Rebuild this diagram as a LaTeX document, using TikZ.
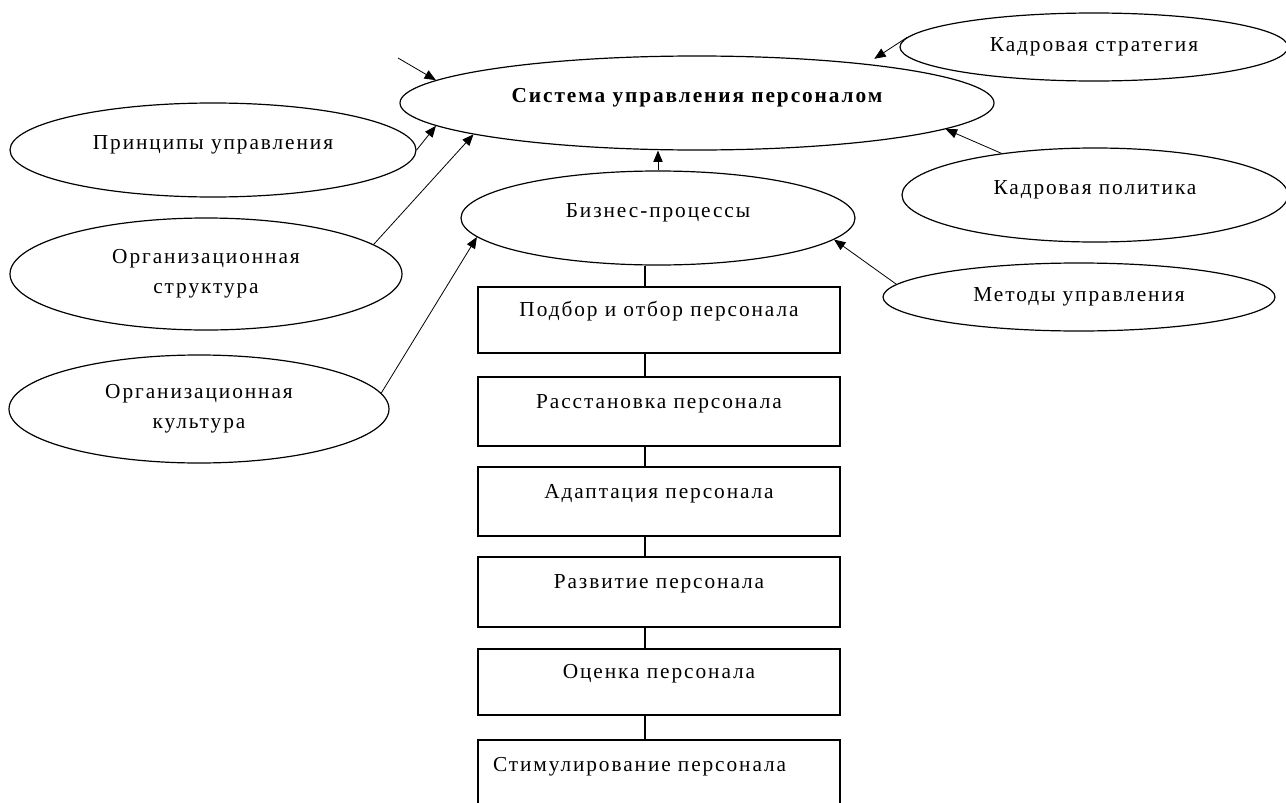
\documentclass[tikz,border=0pt]{standalone}
\usepackage{fontspec}
\setmainfont{Liberation Serif}[LetterSpace=9]
\usetikzlibrary{shapes.geometric,arrows.meta}
\begin{document}
\begin{tikzpicture}[x=0.75pt,y=-0.75pt,
  font=\fontsize{16}{22.5}\selectfont,
  ell/.style={draw,ellipse,inner sep=0pt,line width=0.9pt,align=center},
  lift/.style={text height=11pt,text depth=12pt},
  stagebox/.style={draw,rectangle,line width=1pt,minimum width=271.5pt,
    text height=11pt,text depth=15.8pt,inner sep=0pt},
  arr/.style={-{Triangle[length=8.5pt,width=7pt]},line width=0.6pt},
  link/.style={line width=1pt}]
\useasboundingbox (0,0) rectangle (1286,803);
\clip (0,0) rectangle (1286,803);
\fill[white] (0,0) rectangle (1286,803);

% ellipses
\node[ell,lift,minimum width=445.5pt,minimum height=70.5pt] (m) at (697,103) {\bfseries Система управления персоналом};
\node[ell,minimum width=291pt,minimum height=51pt] (ks) at (1094,47) {Кадровая стратегия};
\node[ell,lift,minimum width=304.5pt,minimum height=70.5pt] (p) at (213,150) {Принципы управления};
\node[ell,minimum width=294pt,minimum height=84pt] (os) at (206,274) {Организационная\\структура};
\node[ell,minimum width=285pt,minimum height=81pt] (ok) at (199,409) {Организационная\\культура};
\node[ell,lift,minimum width=295.5pt,minimum height=70.5pt] (biz) at (658,218) {Бизнес-процессы};
\node[ell,lift,minimum width=289.5pt,minimum height=70.5pt] (kp) at (1095,195) {Кадровая политика};
\node[ell,minimum width=294pt,minimum height=51pt] (mu) at (1079,297) {Методы управления};

% boxes
\node[stagebox,minimum height=49.5pt] (b1) at (659,320) {Подбор и отбор персонала};
\node[stagebox,minimum height=51.75pt] (b2) at (659,411.5) {Расстановка персонала};
\node[stagebox,minimum height=51.75pt] (b3) at (659,501.5) {Адаптация персонала};
\node[stagebox,minimum height=52.5pt] (b4) at (659,592) {Развитие персонала};
\node[stagebox,minimum height=49.5pt] (b5) at (659,682) {Оценка персонала};
\node[stagebox,minimum height=52.5pt,text width=249pt,align=left,inner xsep=11.25pt] (b6) at (659,775) {Стимулирование персонала};

% arrows into the main ellipse
\coordinate (tl) at (398,58);
\draw[arr] (tl) -- (m.175.2);
\draw[arr,shorten >=7pt] (ks.177) -- (m.13.6);
\draw[arr] (p.east) -- (m.185.5);
\draw[arr] (os.10) -- (m.188.9);
\draw[arr] (kp.156.8) -- (m.354.7);
\draw[arr] (biz.north) -- (biz.north |- m.south);

% arrows into Бизнес-процессы
\draw[arr] (ok.5) -- (biz.186.2);
\draw[arr] (mu.176) -- (biz.353.4);

% chain of boxes
\coordinate (cx) at (645,0);
\draw[link] (cx |- biz.south) -- (cx |- b1.north);
\draw[link] (cx |- b1.south) -- (cx |- b2.north);
\draw[link] (cx |- b2.south) -- (cx |- b3.north);
\draw[link] (cx |- b3.south) -- (cx |- b4.north);
\draw[link] (cx |- b4.south) -- (cx |- b5.north);
\draw[link] (cx |- b5.south) -- (cx |- b6.north);
\end{tikzpicture}
\end{document}
